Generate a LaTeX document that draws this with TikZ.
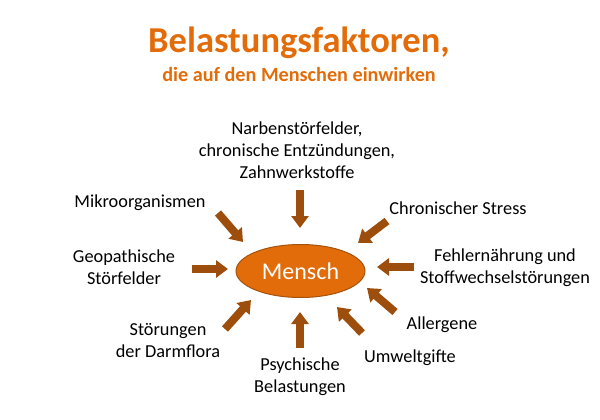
\documentclass[tikz,border=0pt]{standalone}
\usepackage{fontspec}
\setmainfont{Carlito}
\usetikzlibrary{arrows.meta,shapes.geometric}
\definecolor{titelorange}{HTML}{E36C0A}
\definecolor{pfeilbraun}{HTML}{9E4E0C}
\definecolor{randbraun}{HTML}{A5520C}

\begin{document}
\begin{tikzpicture}[x=1pt,y=-1pt,
	label/.style={align=center, inner sep=0pt, font=\fontsize{18.3}{22}\selectfont},
	pfeil/.style={pfeilbraun, line width=8pt, -{Triangle[width=17pt,length=12pt]}}]
	\useasboundingbox (0,0) rectangle (600,420);
	\node[titelorange, font=\fontsize{36.5}{40}\selectfont\bfseries] (titel) at (299,43) {Belastungsfaktoren,};
	\node[titelorange, font=\fontsize{20.2}{24}\selectfont\bfseries] (untertitel) at (299,74) {die auf den Menschen einwirken};
	\node[ellipse, draw=randbraun, line width=1pt, fill=titelorange, text=white,
		minimum width=129pt, minimum height=53pt, inner sep=0pt,
		font=\fontsize{24}{28}\selectfont] (mensch) at (300.5,271) {Mensch};
	% Einflussfaktoren
	\node[label] (narben) at (297,150) {Narbenstörfelder,\\chronische Entzündungen,\\Zahnwerkstoffe};
	\node[label] (mikro) at (140,203) {Mikroorganismen};
	\node[label] (stress) at (458,208) {Chronischer Stress};
	\node[label] (geo) at (124,267) {Geopathische\\Störfelder};
	\node[label] (fehler) at (505,268) {Fehlernährung und\\Stoffwechselstörungen};
	\node[label] (darm) at (168,341) {Störungen\\der Darmflora};
	\node[label] (allergene) at (442,325) {Allergene};
	\node[label] (psyche) at (300,377) {Psychische\\Belastungen};
	\node[label] (umwelt) at (410,358) {Umweltgifte};
	% Pfeile
	\coordinate (a1) at (300,190); \coordinate (b1) at (300,228);
	\coordinate (a2) at (218,213); \coordinate (b2) at (243,242);
	\coordinate (a3) at (387,221); \coordinate (b3) at (358,243);
	\coordinate (a4) at (192,269); \coordinate (b4) at (228,269);
	\coordinate (a5) at (414,267); \coordinate (b5) at (377,267);
	\coordinate (a6) at (225,329); \coordinate (b6) at (251,300);
	\coordinate (a7) at (300,348); \coordinate (b7) at (300,312);
	\coordinate (a8) at (362,333); \coordinate (b8) at (337,307);
	\coordinate (a9) at (395,312); \coordinate (b9) at (367,288);
	\foreach \i in {1,...,9}
	{
		\draw[pfeil] (a\i) -- (b\i);
	}
\end{tikzpicture}
\end{document}
